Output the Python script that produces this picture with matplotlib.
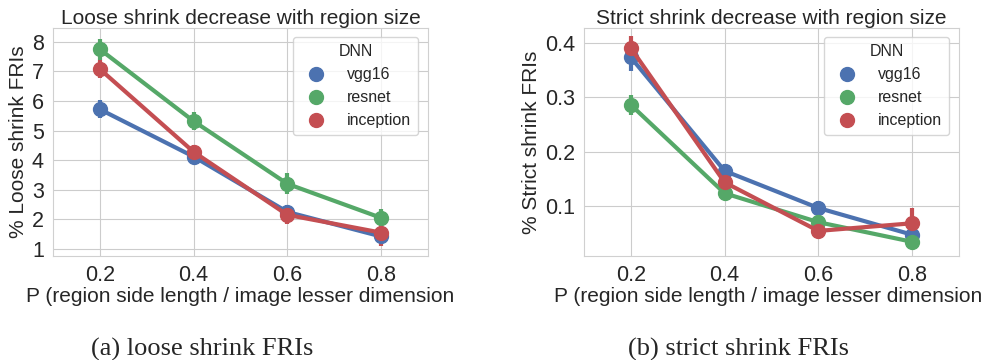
import matplotlib
matplotlib.use('Agg')
import matplotlib.pyplot as plt
import seaborn as sns
import numpy as np

sns.set_style('whitegrid')
plt.rcParams['font.family'] = ['Liberation Sans', 'DejaVu Sans']

p_labels = ['0.2', '0.4', '0.6', '0.8']
dnn_names = ['vgg16', 'resnet', 'inception']
colors = ['#4C72B0', '#55A868', '#C44E52']

# loose shrink (%), mean and error half-width
loose_vgg16 = [5.72, 4.12, 2.25, 1.42]
loose_resnet = [7.75, 5.32, 3.2, 2.05]
loose_inception = [7.08, 4.28, 2.15, 1.55]
loose_vgg16_err = [0.3, 0.2, 0.25, 0.25]
loose_resnet_err = [0.35, 0.3, 0.35, 0.3]
loose_inception_err = [0.3, 0.25, 0.3, 0.45]

# strict shrink (%)
strict_vgg16 = [0.373, 0.165, 0.097, 0.048]
strict_resnet = [0.286, 0.124, 0.071, 0.035]
strict_inception = [0.390, 0.144, 0.055, 0.069]
strict_vgg16_err = [0.025, 0.012, 0.012, 0.01]
strict_resnet_err = [0.018, 0.01, 0.008, 0.006]
strict_inception_err = [0.022, 0.015, 0.01, 0.028]

fig = plt.figure(figsize=(9.87, 3.6), dpi=100)
ax1 = fig.add_axes([53/987, 1-256/360, 375/987, 228/360])
ax2 = fig.add_axes([584/987, 1-256/360, 375/987, 228/360])

def draw(ax, series, errs, title, ylabel, ylim, yticks):
    x = np.arange(len(p_labels))
    for name, vals, err, c in zip(dnn_names, series, errs, colors):
        ax.errorbar(x, vals, yerr=err, color=c, lw=3, elinewidth=3,
                    marker='o', markersize=10, capsize=0, label=name)
    ax.set_xlim(-0.5, 3.5)
    ax.set_ylim(*ylim)
    ax.set_yticks(yticks)
    ax.set_xticks(x)
    ax.set_xticklabels(p_labels)
    ax.tick_params(labelsize=15.5, pad=3)
    ax.set_title(title, fontsize=15, pad=3)
    ax.set_ylabel(ylabel, fontsize=15, labelpad=3)
    ax.set_xlabel('P (region side length / image lesser dimension', fontsize=15)
    handles = [plt.Line2D([], [], color=c, marker='o', ls='', markersize=10) for c in colors]
    ax.legend(handles, dnn_names, title='DNN', loc='upper right', fontsize=11.5,
              title_fontsize=11.5, frameon=True, borderpad=0.45, labelspacing=0.5,
              handletextpad=0.9, borderaxespad=0, bbox_to_anchor=(0.973, 0.96))
    for s in ax.spines.values():
        s.set_color('#d0d0d0')

draw(ax1, [loose_vgg16, loose_resnet, loose_inception],
     [loose_vgg16_err, loose_resnet_err, loose_inception_err],
     'Loose shrink decrease with region size', '% Loose shrink FRIs',
     (0.76, 8.47), [1, 2, 3, 4, 5, 6, 7, 8])
draw(ax2, [strict_vgg16, strict_resnet, strict_inception],
     [strict_vgg16_err, strict_resnet_err, strict_inception_err],
     'Strict shrink decrease with region size', '% Strict shrink FRIs',
     (0.009, 0.427), [0.1, 0.2, 0.3, 0.4])
ax1.xaxis.set_label_coords(0.5, -0.138)
ax2.xaxis.set_label_coords(0.49, -0.138)

fig.text(202/987, 1-356/360, '(a) loose shrink FRIs', ha='center', va='baseline',
         fontsize=19, family='Liberation Serif')
fig.text(738/987, 1-356/360, '(b) strict shrink FRIs', ha='center', va='baseline',
         fontsize=19, family='Liberation Serif')

fig.savefig('out.png', dpi=100)
